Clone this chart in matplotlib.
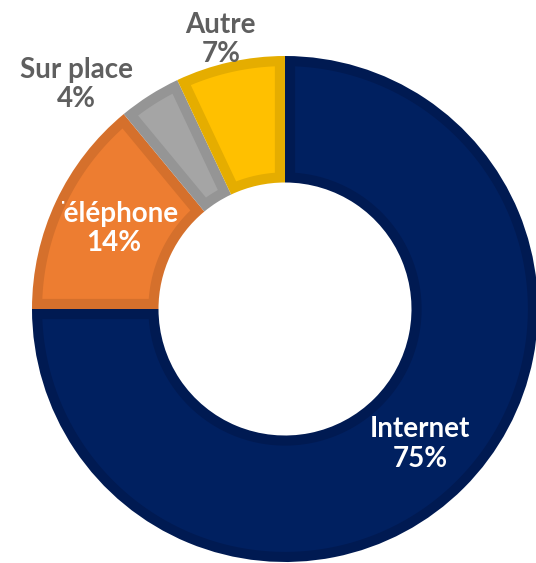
import matplotlib.pyplot as plt
from matplotlib.patches import Polygon
from matplotlib.transforms import Bbox
import numpy as np

# Répartition des canaux
canaux = ["Internet", "Téléphone", "Sur place", "Autre"]
parts = [75, 14, 4, 7]

couleurs = ["#002060", "#ED7D31", "#A5A5A5", "#FFC000"]
bordures = ["#001A52", "#D5702C", "#959595", "#E5AD00"]
couleurs_texte = ["white", "white", "#5F5F5F", "#5F5F5F"]

# Position des étiquettes (angle du milieu de la part, distance au centre)
distances = [0.755, 0.75, 1.21, 1.095]
decalage_angle = [0, 0, 10.5, 0.8]
epaisseur_bord = 0.04
police = dict(fontsize=20, fontweight="bold", family=["Lato", "DejaVu Sans"])


def interieur(w, s):
    """Contour de la part réduit d'une épaisseur s (bordure intérieure)."""
    ro, ri = w.r, w.r - w.width
    t1, t2 = np.deg2rad(w.theta1), np.deg2rad(w.theta2)
    a_o = np.arcsin(s / (ro - s))
    a_i = np.arcsin(s / (ri + s))
    th_o = np.linspace(t1 + a_o, t2 - a_o, 200)
    th_i = np.linspace(t2 - a_i, t1 + a_i, 200)
    xs = np.concatenate([(ro - s) * np.cos(th_o), (ri + s) * np.cos(th_i)])
    ys = np.concatenate([(ro - s) * np.sin(th_o), (ri + s) * np.sin(th_i)])
    return np.column_stack([xs, ys])


fig = plt.figure(figsize=(5.36, 5.63), dpi=100)
cx, cy, R = 285, 563 - 309, 253
ax = fig.add_axes([(cx - R) / 536, (cy - R) / 563, 2 * R / 536, 2 * R / 563])

# la part entière prend la couleur du bord, l'intérieur est recouvert ensuite
wedges, _ = ax.pie(parts, colors=bordures, startangle=90, counterclock=False,
                   radius=1, wedgeprops=dict(width=0.5, linewidth=0))
for w, c in zip(wedges, couleurs):
    ax.add_patch(Polygon(interieur(w, epaisseur_bord), closed=True,
                         facecolor=c, edgecolor="none"))

ax.set_xlim(-1, 1)
ax.set_ylim(-1, 1)
ax.set_aspect("equal")
ax.axis("off")

textes = []
for w, nom, p, d, da, ct in zip(wedges, canaux, parts, distances,
                                decalage_angle, couleurs_texte):
    ang = np.deg2rad((w.theta1 + w.theta2) / 2 + da)
    x, y = d * np.cos(ang), d * np.sin(ang)
    textes.append(ax.text(x, y, f"{nom}\n{p}%", ha="center", va="center",
                          color=ct, linespacing=1.15, clip_on=False, **police))

# l'étiquette « Téléphone » déborde de la zone du graphique : rognée à gauche
rd = fig.canvas.get_renderer()
t_tel = textes[1]
bb = t_tel.get_window_extent(rd)
tmp = ax.text(0, 0, "T", **police)
largeur_t = tmp.get_window_extent(rd).width
tmp.remove()
t_tel.set_clip_on(True)
t_tel.set_clip_box(Bbox.from_extents(bb.x0 + largeur_t - 2, 0, 536, 563))

fig.savefig("out.png", dpi=100, facecolor="white")
